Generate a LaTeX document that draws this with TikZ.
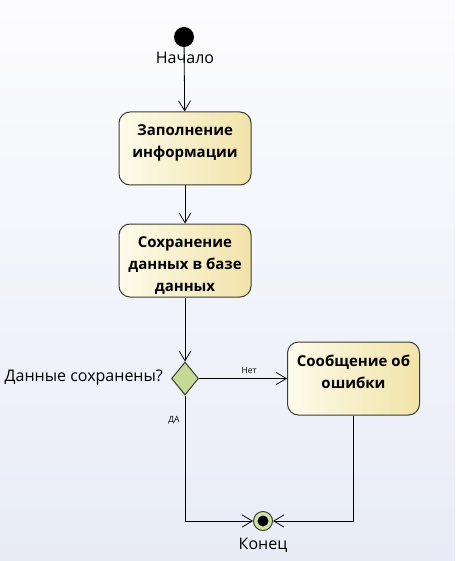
\documentclass[tikz,border=0pt]{standalone}
\usepackage{fontspec}
\setmainfont{Open Sans}
\usetikzlibrary{arrows.meta,shapes.geometric}

\definecolor{bgtop}{HTML}{FCFCFE}
\definecolor{bgbot}{HTML}{E8ECF7}
\definecolor{actL}{HTML}{FDFBEB}
\definecolor{actR}{HTML}{F1E3A8}
\definecolor{linedark}{HTML}{3C3C34}
\definecolor{decgreen}{HTML}{C4D996}
\definecolor{endgreen}{HTML}{CFE3A6}

% text of an action box, set from the top
\newcommand{\acttext}[1]{\parbox[t][47pt][t]{124pt}{\centering #1}}

\begin{document}
\begin{tikzpicture}[
    x=1pt, y=-1pt,
    action/.style={
        draw=linedark, rectangle, rounded corners=11pt, line width=1pt,
        minimum width=132pt, minimum height=73pt, inner xsep=4pt, inner ysep=13pt,
        left color=actL, right color=actR,
        font=\fontsize{15}{22}\selectfont\bfseries
    },
    startnode/.style={circle, fill=black, minimum size=20pt, inner sep=0pt},
    endnode/.style={circle, draw=linedark, line width=1pt, fill=endgreen,
        minimum size=19pt, inner sep=0pt,
        path picture={\fill[black] (path picture bounding box.center) circle (5.5pt);}},
    decision/.style={diamond, draw=linedark, line width=1pt, fill=decgreen,
        minimum width=27pt, minimum height=33pt, inner sep=0pt},
    lbl/.style={font=\fontsize{16}{18}\selectfont, inner sep=1pt},
    small/.style={font=\fontsize{8.5}{10}\selectfont, inner sep=2pt},
    flow/.style={draw, black, line width=0.8pt, -{Straight Barb[length=10pt, width=12pt]}}
]

% ===== background =====
\shade[top color=bgtop, bottom color=bgbot] (0,0) rectangle (455,561);
\useasboundingbox (0,0) rectangle (455,561);

% ===== start =====
\node[startnode] (start) at (184,37) {};
\node[lbl] (startlbl) at (185,58) {Начало};

% ===== actions =====
\node[action] (fill) at (185,148.5) {\acttext{Заполнение\\информации}};
\node[action] (save) at (185,260.5) {\acttext{Сохранение\\данных в базе\\данных}};

% ===== decision =====
\node[decision] (dec) at (185,378.5) {};
\node[lbl, anchor=east] (declbl) at (164,378) {Данные сохранены?};

\node[action] (err) at (353.5,378.5) {\acttext{Сообщение об\\ошибки}};

% ===== end =====
\node[endnode] (end) at (263,521) {};
\node[lbl] (endlbl) at (263,545) {Конец};

% ===== flows =====
\draw[flow] (start) -- (fill);
\draw[flow] (fill) -- (save);
\draw[flow] (save) -- (dec);
\draw[flow] (dec) -- node[small, pos=0.57, above=3pt] {Нет} (err);
\draw[flow] (dec.south) |- node[small, pos=0.1, left=3pt] {ДА} (end);
\draw[flow] (err.south) |- (end);

\end{tikzpicture}
\end{document}
